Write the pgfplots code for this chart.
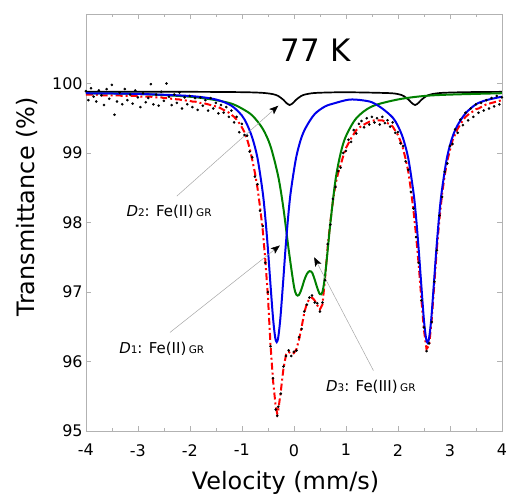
\documentclass[border=0pt]{standalone}
\usepackage{fontspec}
\setmainfont{DejaVu Sans}
\usepackage{pgfplots}
\usepackage{pgfplotstable}
\pgfplotsset{compat=1.18}
\usetikzlibrary{arrows.meta}

\definecolor{fitred}{RGB}{255,0,0}
\definecolor{d1blue}{RGB}{0,0,235}
\definecolor{d3green}{RGB}{0,128,0}

% velocity, total fit, measured points
\pgfplotstableread{
x red dot
-4.00 99.84 99.89
-3.95 99.84 99.76
-3.90 99.84 99.93
-3.85 99.84 99.81
-3.80 99.84 99.74
-3.75 99.83 99.90
-3.70 99.83 99.83
-3.65 99.83 99.69
-3.60 99.83 99.92
-3.55 99.83 99.78
-3.50 99.83 99.98
-3.45 99.83 99.55
-3.40 99.83 99.74
-3.35 99.83 99.87
-3.30 99.82 99.70
-3.25 99.82 99.92
-3.20 99.82 99.76
-3.15 99.82 99.84
-3.10 99.82 99.71
-3.05 99.82 99.90
-3.00 99.82 99.80
-2.95 99.81 99.66
-2.90 99.81 99.86
-2.85 99.81 99.73
-2.80 99.81 99.79
-2.75 99.81 99.99
-2.70 99.80 99.70
-2.65 99.80 99.84
-2.60 99.80 99.68
-2.55 99.80 99.88
-2.50 99.79 99.75
-2.45 99.79 100.00
-2.40 99.79 99.81
-2.35 99.78 99.69
-2.30 99.78 99.84
-2.25 99.77 99.72
-2.20 99.77 99.87
-2.15 99.76 99.64
-2.10 99.76 99.80
-2.05 99.75 99.70
-2.00 99.75 99.82
-1.95 99.74 99.66
-1.90 99.74 99.79
-1.85 99.73 99.62
-1.80 99.72 99.80
-1.75 99.72 99.68
-1.70 99.71 99.76
-1.65 99.70 99.61
-1.60 99.69 99.79
-1.55 99.68 99.64
-1.50 99.67 99.72
-1.45 99.66 99.57
-1.40 99.64 99.69
-1.35 99.62 99.58
-1.30 99.60 99.66
-1.25 99.58 99.52
-1.20 99.55 99.61
-1.15 99.52 99.44
-1.10 99.48 99.52
-1.05 99.43 99.30
-1.00 99.37 99.42
-0.95 99.30 99.26
-0.90 99.20 99.25
-0.85 99.07 99.02
-0.80 98.90 98.94
-0.75 98.72 98.66
-0.70 98.50 98.55
-0.65 98.22 98.17
-0.60 97.90 97.95
-0.55 97.47 97.42
-0.50 96.95 97.00
-0.45 96.25 96.22
-0.40 95.72 95.76
-0.35 95.36 95.31
-0.32 95.25 95.22
-0.30 95.30 95.35
-0.25 95.58 95.54
-0.20 95.90 95.93
-0.15 96.10 96.08
-0.10 96.14 96.16
-0.05 96.11 96.08
0.00 96.12 96.14
0.05 96.18 96.16
0.10 96.32 96.35
0.15 96.50 96.47
0.20 96.70 96.72
0.25 96.84 96.82
0.30 96.90 96.92
0.35 96.92 96.95
0.40 96.88 96.85
0.45 96.81 96.84
0.50 96.75 96.72
0.55 96.82 96.85
0.60 97.20 97.17
0.65 97.65 97.69
0.70 98.00 97.97
0.75 98.30 98.34
0.80 98.55 98.51
0.85 98.71 98.74
0.90 98.83 98.79
0.95 98.96 99.00
1.00 99.07 99.03
1.05 99.14 99.19
1.10 99.21 99.16
1.15 99.27 99.33
1.20 99.33 99.28
1.25 99.36 99.42
1.30 99.39 99.46
1.35 99.41 99.37
1.40 99.43 99.50
1.45 99.45 99.41
1.50 99.46 99.52
1.55 99.47 99.44
1.60 99.47 99.50
1.65 99.47 99.41
1.70 99.47 99.52
1.75 99.45 99.43
1.80 99.43 99.47
1.85 99.41 99.38
1.90 99.38 99.44
1.95 99.32 99.29
2.00 99.26 99.30
2.05 99.17 99.14
2.10 99.06 99.10
2.15 98.91 98.88
2.20 98.73 98.76
2.25 98.47 98.44
2.30 98.17 98.20
2.35 97.81 97.79
2.40 97.39 97.42
2.45 96.91 96.88
2.50 96.46 96.49
2.55 96.18 96.15
2.60 96.23 96.26
2.65 96.60 96.57
2.70 97.12 97.15
2.75 97.63 97.60
2.80 98.06 98.10
2.85 98.41 98.37
2.90 98.68 98.73
2.95 98.89 98.85
3.00 99.04 99.10
3.05 99.18 99.13
3.10 99.27 99.34
3.15 99.35 99.29
3.20 99.41 99.48
3.25 99.47 99.40
3.30 99.52 99.58
3.35 99.55 99.47
3.40 99.58 99.64
3.45 99.60 99.52
3.50 99.63 99.70
3.55 99.64 99.58
3.60 99.66 99.72
3.65 99.68 99.61
3.70 99.70 99.76
3.75 99.71 99.64
3.80 99.72 99.79
3.85 99.73 99.67
3.90 99.74 99.82
3.95 99.75 99.70
4.00 99.76 99.80
}\spectrum

\newcommand{\site}[2]{\textit{D}{\fontsize{10.5}{10.5}\selectfont #1}: Fe(#2)\,{\fontsize{10.5}{10.5}\selectfont GR}}

\begin{document}
\begin{tikzpicture}
\begin{axis}[
    scale only axis,
    width=417pt, height=418pt,
    xmin=-4, xmax=4, ymin=95, ymax=101,
    xtick={-4,-3,...,4},
    ytick={95,96,...,100},
    minor x tick num=1,
    tick align=inside,
    major tick length=5pt, minor tick length=3pt,
    axis line style={gray!60},
    every tick/.style={gray!60},
    /pgf/number format/assume math mode=true,
    ticklabel style={font=\fontsize{16}{16}\selectfont, inner sep=0pt},
    xticklabel style={yshift=-13pt},
    yticklabel style={xshift=-3pt},
    xlabel={Velocity (mm/s)},
    ylabel={Transmittance (\%)},
    xlabel style={at={(axis description cs:0.48,-0.0957)}, anchor=north,
        font=\fontsize{24}{24}\selectfont, inner sep=0pt},
    ylabel style={at={(axis description cs:-0.115,0.538)}, anchor=south,
        font=\fontsize{24}{24}\selectfont, inner sep=0pt},
    ]

\addplot[fitred, line width=2pt, dash pattern=on 7pt off 3pt on 2pt off 3pt]
    table[x=x, y=red]{\spectrum};

\addplot[only marks, mark=*, mark size=1.1pt, black]
    table[x=x, y=dot]{\spectrum};

% D2 doublet
\addplot[black, line width=1.7pt, smooth] coordinates {
(-4,99.88) (-2,99.88) (-1,99.875) (-0.6,99.865) (-0.4,99.846) (-0.3,99.82)
(-0.2,99.764) (-0.15,99.724) (-0.08,99.69) (-0.01,99.724) (0.04,99.764)
(0.14,99.82) (0.24,99.846) (0.44,99.865) (1.0,99.874) (1.81,99.862)
(2.01,99.846) (2.11,99.82) (2.21,99.764) (2.26,99.724) (2.33,99.69)
(2.40,99.724) (2.45,99.764) (2.55,99.82) (2.65,99.846) (2.85,99.865)
(3.3,99.875) (4.0,99.88)
};

% D3 doublet
\addplot[d3green, line width=2pt, smooth] coordinates {
(-4,99.86) (-3,99.85) (-2,99.81) (-1.5,99.76) (-1.2,99.71) (-1.0,99.64)
(-0.8,99.54) (-0.6,99.35) (-0.45,99.10) (-0.3,98.66) (-0.2,98.20)
(-0.1,97.61) (0,97.09) (0.05,96.96) (0.1,96.96) (0.15,97.05) (0.2,97.17)
(0.25,97.26) (0.3,97.30) (0.35,97.28) (0.4,97.18) (0.45,97.06) (0.5,96.97)
(0.55,97.00) (0.6,97.24) (0.65,97.60) (0.7,97.98) (0.8,98.61) (0.9,99.00)
(1.0,99.24) (1.2,99.50) (1.5,99.67) (2.0,99.77) (2.5,99.82) (3.0,99.84)
(4.0,99.86)
};

% D1 doublet
\addplot[d1blue, line width=2pt, smooth] coordinates {
(-4,99.86) (-3,99.85) (-2,99.82) (-1.5,99.77) (-1.2,99.68) (-1.0,99.54)
(-0.9,99.41) (-0.8,99.22) (-0.7,98.93) (-0.6,98.44) (-0.55,98.08)
(-0.5,97.63) (-0.45,97.11) (-0.4,96.62) (-0.36,96.35) (-0.33,96.28)
(-0.30,96.35) (-0.26,96.62) (-0.21,97.11) (-0.16,97.63) (-0.11,98.08)
(-0.06,98.44) (0.04,98.92) (0.14,99.21) (0.24,99.38) (0.4,99.56)
(0.6,99.67) (0.8,99.72) (1.0,99.76) (1.12,99.77) (1.3,99.76) (1.5,99.73)
(1.7,99.64) (1.9,99.51) (2.0,99.39) (2.1,99.21) (2.2,98.92) (2.3,98.43)
(2.35,98.07) (2.4,97.61) (2.45,97.10) (2.5,96.60) (2.54,96.34)
(2.57,96.27) (2.60,96.34) (2.64,96.60) (2.69,97.10) (2.74,97.62)
(2.79,98.07) (2.84,98.43) (2.94,98.92) (3.04,99.21) (3.14,99.39)
(3.3,99.57) (3.5,99.70) (3.7,99.76) (4.0,99.81)
};

\node[font=\fontsize{31}{31}\selectfont] at (axis cs:0.42,100.48) {77 K};

\draw[gray!70, line width=0.5pt, -{Stealth[black, length=9pt, width=7pt, inset=2pt]}]
    (axis cs:-2.25,98.38) -- (axis cs:-0.30,99.68);
\draw[gray!70, line width=0.5pt, -{Stealth[black, length=9pt, width=7pt, inset=2pt]}]
    (axis cs:-2.38,96.42) -- (axis cs:-0.27,97.67);
\draw[gray!70, line width=0.5pt, -{Stealth[black, length=9pt, width=7pt, inset=2pt]}]
    (axis cs:1.53,95.87) -- (axis cs:0.39,97.50);

\node[font=\fontsize{15}{15}\selectfont] at (axis cs:-2.40,98.15) {\site{2}{II}};
\node[font=\fontsize{15}{15}\selectfont] at (axis cs:-2.54,96.18) {\site{1}{II}};
\node[font=\fontsize{15}{15}\selectfont] at (axis cs:1.48,95.63) {\site{3}{III}};
\end{axis}
\path (current axis.south west) ++(-86pt,-63pt);
\path (current axis.north east) ++(4pt,14pt);
\end{tikzpicture}
\end{document}
